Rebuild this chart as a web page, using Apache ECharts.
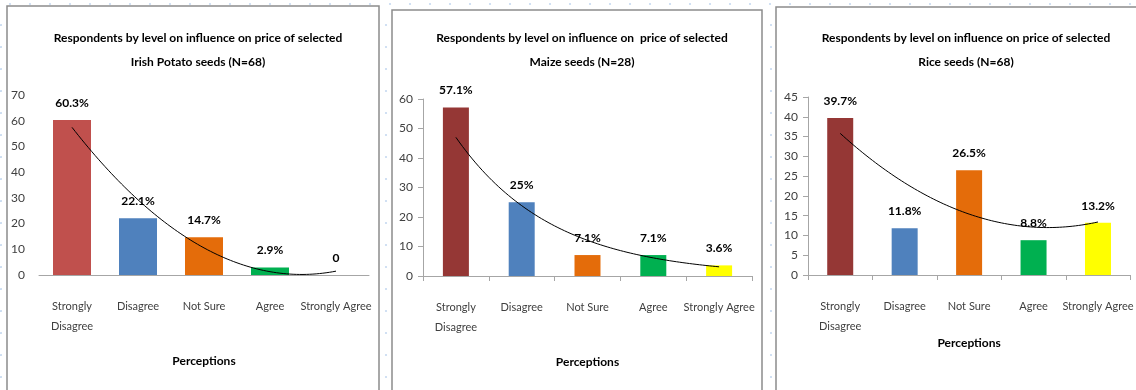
<!DOCTYPE html>
<html>
<head>
<meta charset="utf-8">
<script src="https://cdn.jsdelivr.net/npm/echarts@6/dist/echarts.min.js"></script>
<style>
  html, body { margin: 0; padding: 0; background: #fff; }
  #chart { width: 1136px; height: 390px; }
</style>
</head>
<body>
<div id="chart"></div>
<script>
// Perception categories shared by the three crops
const categories = ['Strongly Disagree', 'Disagree', 'Not Sure', 'Agree', 'Strongly Agree'];

// Percent of respondents per perception level
const potatoValues = [60.3, 22.1, 14.7, 2.9, 0];
const maizeValues  = [57.1, 25, 7.1, 7.1, 3.6];
const riceValues   = [39.7, 11.8, 26.5, 8.8, 13.2];

// Value labels as printed above the bars
const potatoLabels = ['60.3%', '22.1%', '14.7%', '2.9%', '0'];
const maizeLabels  = ['57.1%', '25%', '7.1%', '7.1%', '3.6%'];
const riceLabels   = ['39.7%', '11.8%', '26.5%', '8.8%', '13.2%'];

// Panel titles
const potatoTitle = 'Respondents by level on influence on price of selected\nIrish Potato seeds (N=68)';
const maizeTitle  = 'Respondents by level on influence on  price of selected\nMaize seeds (N=28)';
const riceTitle   = 'Respondents by level on influence on price of selected\nRice seeds (N=68)';

// Value axis ranges
const potatoAxis = { max: 70, interval: 10 };
const maizeAxis  = { max: 60, interval: 10 };
const riceAxis   = { max: 45, interval: 5 };

const xAxisName = 'Perceptions';

// Bar colours per category
const potatoColors = ['#C0504D', '#4F81BD', '#E46C0A', '#00B050', '#FFFF00'];
const maizeColors  = ['#953735', '#4F81BD', '#E46C0A', '#00B050', '#FFFF00'];
const riceColors   = ['#953735', '#4F81BD', '#E46C0A', '#00B050', '#FFFF00'];

const FONT = "Lato, 'Liberation Sans', sans-serif";

// Least-squares trendlines over category positions 1..n
function polyFit2(ys) {
  const n = ys.length, mid = (n + 1) / 2;
  let st2 = 0, st4 = 0, sy = 0, sty = 0, st2y = 0;
  ys.forEach((y, i) => {
    const t = i + 1 - mid;
    st2 += t * t; st4 += t ** 4; sy += y; sty += t * y; st2y += t * t * y;
  });
  const b = sty / st2;
  const c = (n * st2y - st2 * sy) / (n * st4 - st2 * st2);
  const a = (sy - c * st2) / n;
  return x => { const t = x - mid; return a + b * t + c * t * t; };
}
function expFit(ys) {
  const n = ys.length;
  const xs = ys.map((_, i) => i + 1);
  const ls = ys.map(y => Math.log(y));
  const mx = xs.reduce((s, v) => s + v, 0) / n;
  const ml = ls.reduce((s, v) => s + v, 0) / n;
  let num = 0, den = 0;
  xs.forEach((x, i) => { num += (x - mx) * (ls[i] - ml); den += (x - mx) ** 2; });
  const k = num / den;
  return x => Math.exp(ml + k * (x - mx));
}
function trendPoints(fn, n) {
  const pts = [];
  for (let i = 0; i <= (n - 1) * 20; i++) {
    const x = 1 + i / 20;
    pts.push([x, fn(x)]);
  }
  return pts;
}

const panels = [
  { values: potatoValues, labels: potatoLabels, title: potatoTitle, axis: potatoAxis, colors: potatoColors,
    trend: polyFit2(potatoValues), grid: { left: 39, top: 95, width: 330, height: 180 },
    titleX: 193, barWidth: 38, showYLine: false, showXTicks: false, nameGap: 80 },
  { values: maizeValues, labels: maizeLabels, title: maizeTitle, axis: maizeAxis, colors: maizeColors,
    trend: expFit(maizeValues), grid: { left: 423, top: 99, width: 329, height: 177 },
    titleX: 577, barWidth: 26, showYLine: true, showXTicks: true, nameGap: 80 },
  { values: riceValues, labels: riceLabels, title: riceTitle, axis: riceAxis, colors: riceColors,
    trend: polyFit2(riceValues), grid: { left: 808, top: 97, width: 328, height: 178 },
    titleX: 961, barWidth: 26, showYLine: true, showXTicks: true, nameGap: 62 }
];

const grids = [], xAxes = [], yAxes = [], series = [], titles = [];
panels.forEach((p, i) => {
  grids.push(Object.assign({ containLabel: false }, p.grid));
  titles.push({
    text: p.title, left: p.titleX, top: 21, textAlign: 'center',
    textStyle: { fontFamily: FONT, fontSize: 12, fontWeight: 'bold', color: '#000', lineHeight: 24 }
  });
  xAxes.push({
    type: 'category', gridIndex: i, data: categories,
    axisLine: { lineStyle: { color: '#A6A6A6', width: 1 } },
    axisTick: { show: p.showXTicks, length: 5, lineStyle: { color: '#A6A6A6' } },
    axisLabel: {
      interval: 0, margin: 21, color: '#404040', fontFamily: FONT, fontSize: 11, lineHeight: 20,
      formatter: v => v === 'Strongly Disagree' ? 'Strongly\nDisagree' : v
    },
    name: xAxisName, nameLocation: 'middle', nameGap: p.nameGap,
    nameTextStyle: { fontFamily: FONT, fontSize: 12, fontWeight: 'bold', color: '#000' }
  });
  yAxes.push({
    type: 'value', gridIndex: i, min: 0, max: p.axis.max, interval: p.axis.interval,
    splitLine: { show: false },
    axisLine: { show: p.showYLine, lineStyle: { color: '#A6A6A6' } },
    axisTick: { show: p.showYLine, length: 5, lineStyle: { color: '#A6A6A6' } },
    axisLabel: { margin: p.showYLine ? 10 : 14, color: '#404040', fontFamily: FONT, fontSize: 12 }
  });
  series.push({
    type: 'bar', xAxisIndex: i, yAxisIndex: i, barWidth: p.barWidth,
    data: p.values.map((v, j) => ({ value: v, itemStyle: { color: p.colors[j] } })),
    label: {
      show: true, position: 'top', distance: 11,
      formatter: d => p.labels[d.dataIndex],
      fontFamily: FONT, fontSize: 12, fontWeight: 'bold', color: '#000'
    },
    silent: true
  });
});
// Hidden numeric x axes so the trendlines can run between category centres
panels.forEach((p, i) => {
  xAxes.push({ type: 'value', gridIndex: i, min: 0.5, max: 5.5, show: false });
  series.push({
    type: 'line', xAxisIndex: 3 + i, yAxisIndex: i, data: trendPoints(p.trend, p.values.length),
    showSymbol: false, symbol: 'none', smooth: false, silent: true,
    lineStyle: { color: '#000', width: 1 }, z: 5
  });
});

// Panel frames and the dotted page background
const graphics = [
  { type: 'rect', shape: { x: 7, y: 6, width: 372, height: 420 }, style: { fill: 'none', stroke: '#8C8C8C', lineWidth: 1.5 }, z: -1 },
  { type: 'rect', shape: { x: 392, y: 10, width: 370, height: 420 }, style: { fill: 'none', stroke: '#8C8C8C', lineWidth: 1.5 }, z: -1 },
  { type: 'rect', shape: { x: 776, y: 7, width: 420, height: 420 }, style: { fill: 'none', stroke: '#8C8C8C', lineWidth: 1.5 }, z: -1 }
];
const dotStyle = { fill: '#C6D9F0' };
for (let y = 25; y < 390; y += 22) {
  [1, 386, 771].forEach(x => graphics.push({ type: 'circle', shape: { cx: x, cy: y, r: 1.1 }, style: dotStyle, z: -2 }));
}
for (let x = 10; x < 1136; x += 20) {
  graphics.push({ type: 'circle', shape: { cx: x, cy: 4, r: 1.1 }, style: dotStyle, z: -2 });
}

const chart = echarts.init(document.getElementById('chart'), null, { renderer: 'canvas' });
chart.setOption({
  animation: false,
  backgroundColor: '#fff',
  title: titles,
  grid: grids,
  xAxis: xAxes,
  yAxis: yAxes,
  series: series,
  graphic: graphics
});
</script>
</body>
</html>
